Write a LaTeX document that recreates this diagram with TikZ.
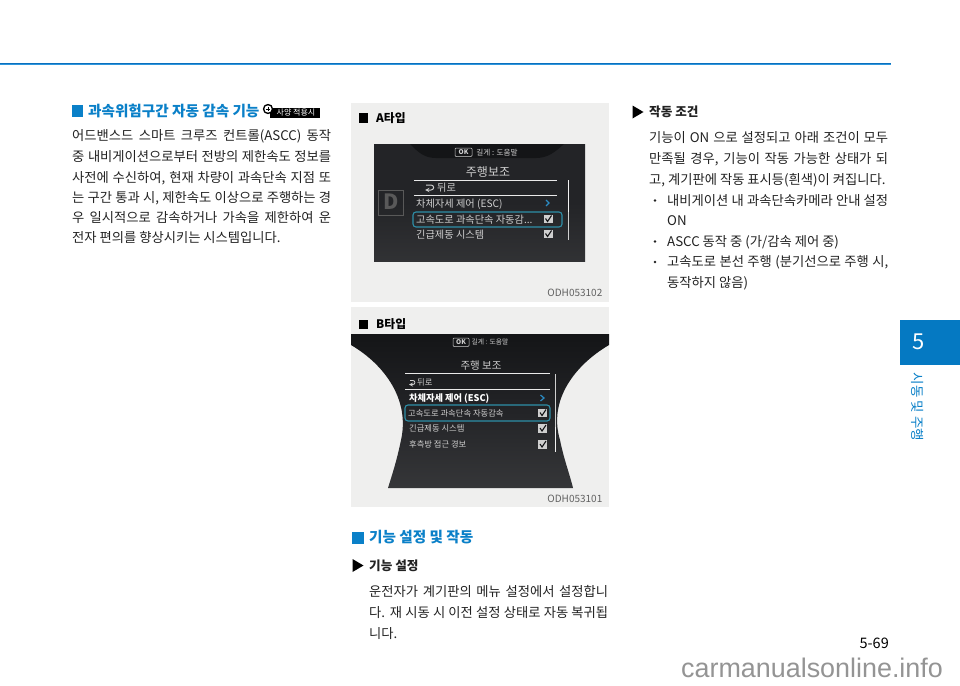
\documentclass[tikz,border=0pt]{standalone}
\usepackage{fontspec}
\setmainfont{Noto Sans CJK KR}
\setsansfont{Noto Sans CJK KR}
\newfontfamily\wmfont{Liberation Sans}
\usetikzlibrary{calc}
\definecolor{brandblue}{HTML}{0A80C8}
\definecolor{ruletop}{HTML}{0A70BE}
\definecolor{rulelow}{HTML}{2F96DC}
\definecolor{tabblue}{HTML}{0579C2}
\definecolor{panelgrey}{HTML}{EFEFEE}
\definecolor{bodyink}{HTML}{222222}
\definecolor{screendark}{HTML}{232427}
\definecolor{screentop}{HTML}{141517}
\definecolor{hilite}{HTML}{2E8FA8}
\definecolor{menutext}{HTML}{CFCFCF}
\definecolor{chevron}{HTML}{2B8CC4}
\tikzset{
  x=1pt,y=-1pt,
  bodyline/.style={anchor=base west,inner sep=0pt,font=\fontsize{13.3}{15}\selectfont,text=bodyink},
  heading/.style={anchor=base west,inner sep=0pt,font=\fontsize{14.6}{16}\selectfont\bfseries,text=brandblue},
  subhead/.style={anchor=base west,inner sep=0pt,font=\fontsize{12.6}{14}\selectfont\bfseries,text=bodyink},
  panel/.style={fill=panelgrey,draw=none},
  typelabel/.style={anchor=base west,inner sep=0pt,font=\fontsize{11.8}{13}\selectfont\bfseries,text=black},
  code/.style={anchor=base east,inner sep=0pt,font=\fontsize{10}{12}\selectfont,text=black!62},
  menua/.style={anchor=base west,inner sep=0pt,font=\fontsize{10.2}{12}\selectfont,text=menutext},
  menub/.style={anchor=base west,inner sep=0pt,font=\fontsize{8.3}{10}\selectfont,text=menutext},
  bluebox/.style={fill=brandblue,draw=none},
  ruleline/.style={draw=menutext!45,line width=0.5pt},
  hibox/.style={draw=hilite,line width=1.1pt,rounded corners=3pt},
  chev/.style={draw=chevron,line width=1.2pt},
}
\newcommand{\jfy}[4]{\node[bodyline] at (#1,#2) {\makebox[#3pt][s]{#4}};}
\newcommand{\jplain}[3]{\node[bodyline] at (#1,#2) {#3};}
\newcommand{\ckbox}[2]{\fill[menutext] (#1,#2) rectangle ++(9,8.5);
  \draw[screentop,line width=1.1pt] (#1+2,#2+4) -- (#1+4,#2+7) -- (#1+8,#2+1);}
\begin{document}
\begin{tikzpicture}
\useasboundingbox (0,0) rectangle (960,685);
\fill[white] (0,0) rectangle (960,685);
% top rule
\fill[ruletop] (0,62.5) rectangle (891,64);
\fill[rulelow] (0,64) rectangle (891,65.2);
% side tab
\fill[tabblue] (900,320) rectangle (960,364.5);
\node[inner sep=0pt,text=white,font=\fontsize{22}{24}\selectfont] (tabnum) at (919,342) {5};
\node[inner sep=0pt,text=brandblue,rotate=-90,font=\fontsize{13.5}{15}\selectfont] (tabtext) at (918,407) {시동 및 주행};
% left column
\fill[bluebox] (72,105) rectangle (83,117);
\node[heading] at (88,116.5) {과속위험구간 자동 감속 기능};
\fill[black] (270,107.5) rectangle (320,118);
\fill[black] (268,109) circle (5.2);
\fill[white] (268,109) circle (3.6);
\draw[black,line width=0.9pt] (265.8,109) -- (270.2,109) (268,106.8) -- (268,111.2);
\node[inner sep=0pt,text=white,font=\fontsize{8}{9}\selectfont] at (296,113) {사양 적용시};
\jfy{72}{140.5}{259}{어드밴스드 스마트 크루즈 컨트롤(ASCC) 동작}
\jfy{72}{161.5}{259}{중 내비게이션으로부터 전방의 제한속도 정보를}
\jfy{72}{182}{259}{사전에 수신하여, 현재 차량이 과속단속 지점 또}
\jfy{72}{202.5}{259}{는 구간 통과 시, 제한속도 이상으로 주행하는 경}
\jfy{72}{222}{259}{우 일시적으로 감속하거나 가속을 제한하여 운}
\jplain{72}{242.5}{전자 편의를 향상시키는 시스템입니다.}
% panel A
\fill[panel] (351,102.5) rectangle (609,302);
\fill[black] (358.5,113) rectangle (368,123);
\node[typelabel] at (376,122.5) {A타입};
\node[code] at (602.5,296) {ODH053102};
\shade[top color=screendark,bottom color=screendark!85!gray,middle color=screendark] (374,144) rectangle (585,261);
\fill[screentop] (410,144) .. controls (418,152) and (424,158) .. (436,158) -- (536,158) .. controls (548,158) and (555,152) .. (564,144) -- cycle;
\draw[menutext,line width=0.5pt,rounded corners=1pt] (455,148) rectangle (472,156.5);
\node[inner sep=0pt,text=menutext,font=\fontsize{6.5}{8}\selectfont\bfseries] at (463.5,152.2) {OK};
\node[inner sep=0pt,text=menutext,font=\fontsize{7.6}{9}\selectfont] at (497,152.2) {길게 : 도움말};
\node[inner sep=0pt,text=menutext,font=\fontsize{12}{14}\selectfont] at (488,172) {주행보조};
\draw[ruleline] (414,180) -- (557,180) (414,195) -- (557,195);
\draw[menutext,line width=1pt,-stealth] (426,185) -- (431,185) .. controls (434.5,185) and (434.5,190) .. (431,190) -- (425,190);
\node[menua] at (437,191.5) {뒤로};
\node[menua] at (416,207) {차체자세 제어 (ESC)};
\draw[chev] (546,200) -- (549,203) -- (546,206);
\draw[hibox] (413,212) rectangle (562,227);
\node[menua] at (416,223) {고속도로 과속단속 자동감...};
\node[menua] at (416,238) {긴급제동 시스템};
\ckbox{543.5}{214.5}
\ckbox{543.5}{229.5}
\draw[menutext!30,line width=0.8pt] (568,180) -- (568,212);
\draw[menutext,line width=1pt] (568,212) -- (568,240);
\draw[black!65,line width=0.7pt] (378,190) rectangle (403,215);
\node[inner sep=0pt,text=black!65,font=\fontsize{21}{23}\selectfont\bfseries] at (391,202) {D};
% panel B
\fill[panel] (351,307) rectangle (609,507);
\fill[black] (358.5,320) rectangle (368,329);
\node[typelabel] at (376,328) {B타입};
\node[code] at (602.5,502) {ODH053101};
\shade[top color=screentop,bottom color=screendark!80!gray,middle color=screendark]
  (351,334) -- (609,334) -- (609,345) .. controls (575,365) and (548,400) .. (560,440) .. controls (564,460) and (570,475) .. (573,488) -- (388,488) .. controls (392,475) and (397,460) .. (401,440) .. controls (410,400) and (385,365) .. (351,345) -- cycle;
\draw[menutext,line width=0.5pt,rounded corners=1pt] (453,338) rectangle (469,346.5);
\node[inner sep=0pt,text=menutext,font=\fontsize{6.5}{8}\selectfont\bfseries] at (461,342.2) {OK};
\node[inner sep=0pt,text=menutext,font=\fontsize{6.8}{8}\selectfont] at (490,342.2) {길게 : 도움말};
\node[inner sep=0pt,text=menutext,font=\fontsize{10.5}{12}\selectfont] at (481,366) {주행 보조};
\draw[ruleline] (405,373) -- (550,373) (405,389) -- (550,389);
\draw[menutext,line width=0.8pt,-stealth] (410,380.5) -- (413,380.5) .. controls (415.5,380.5) and (415.5,384.5) .. (413,384.5) -- (409,384.5);
\node[menub] at (417,385) {뒤로};
\node[menub,font=\fontsize{9.2}{11}\selectfont\bfseries,text=white] at (409,401) {차체자세 제어 (ESC)};
\draw[chev] (540.5,395) -- (544,398) -- (540.5,401);
\draw[hibox] (405,405) rectangle (550,421);
\node[menub] at (408,416.5) {고속도로 과속단속 자동감속};
\node[menub] at (409,431.5) {긴급제동 시스템};
\node[menub] at (409,447.5) {후측방 접근 경보};
\ckbox{538}{408.5}
\ckbox{538}{424}
\ckbox{538}{440}
\draw[menutext,line width=1pt] (555.5,374) -- (555.5,427);
\draw[menutext!30,line width=0.8pt] (555.5,427) -- (555.5,452);
% middle text
\fill[bluebox] (352,532) rectangle (364,544);
\node[heading] at (369,542.5) {기능 설정 및 작동};
\fill[black] (352.5,559) -- (363.5,565.5) -- (352.5,572) -- cycle;
\node[subhead] at (369,570) {기능 설정};
\jfy{369}{596}{239}{운전자가 계기판의 메뉴 설정에서 설정합니}
\jfy{369}{617}{239}{다. 재 시동 시 이전 설정 상태로 자동 복귀됩}
\jplain{369}{638}{니다.}
% right column
\fill[black] (632.5,105.5) -- (643.5,112) -- (632.5,118.5) -- cycle;
\node[subhead] at (649,116.5) {작동 조건};
\jfy{649}{142.5}{239}{기능이 ON 으로 설정되고 아래 조건이 모두}
\jfy{649}{163.3}{239}{만족될 경우, 기능이 작동 가능한 상태가 되}
\jplain{649}{184}{고, 계기판에 작동 표시등(흰색)이 켜집니다.}
\fill[bodyink] (655,200.5) circle (1.3);
\jfy{667}{205}{221}{내비게이션 내 과속단속카메라 안내 설정}
\jplain{667}{225}{ON}
\fill[bodyink] (655,241.5) circle (1.3);
\jplain{667}{246}{ASCC 동작 중 (가/감속 제어 중)}
\fill[bodyink] (655,262) circle (1.3);
\jfy{667}{266.5}{221}{고속도로 본선 주행 (분기선으로 주행 시,}
\jplain{667}{287}{동작하지 않음)}
% page number
\node[anchor=base east,inner sep=0pt,text=black,font=\fontsize{14.5}{16}\selectfont] (pageno) at (889,648) {5-69};
% watermark
\node[anchor=base west,inner sep=0pt,text=black!42,font=\wmfont\fontsize{26.9}{28}\selectfont] (watermark) at (681,677) {carmanualsonline.info};
\end{tikzpicture}
\end{document}
